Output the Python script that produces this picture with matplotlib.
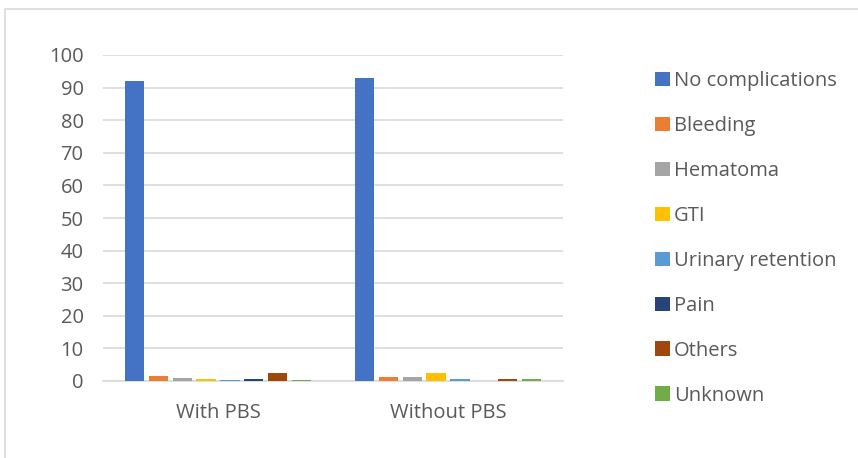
import matplotlib.pyplot as plt
import numpy as np
from matplotlib.patches import Rectangle

groups = ["With PBS", "Without PBS"]
series = ["No complications", "Bleeding", "Hematoma", "GTI",
          "Urinary retention", "Pain", "Others", "Unknown"]
with_pbs = [92, 1.5, 0.9, 0.6, 0.3, 0.6, 2.5, 0.2]
without_pbs = [93, 1.2, 1.2, 2.5, 0.5, 0.0, 0.5, 0.5]
colors = ["#4472C4", "#ED7D31", "#A5A5A5", "#FFC000",
          "#5B9BD5", "#264478", "#9E480E", "#70AD47"]

plt.rcParams['font.family'] = ['Open Sans', 'DejaVu Sans']
FS = 14.5

fig = plt.figure(figsize=8.58 * np.array([1, 458 / 858]), dpi=100)
fig.patches.append(Rectangle((4.5 / 858, -0.1), 1.2, (458 - 9.5) / 458 + 0.1,
                             transform=fig.transFigure, fill=False,
                             edgecolor="#d9d9d9", linewidth=1.2))

ax = fig.add_axes([103 / 858, (458 - 381) / 458, 460 / 858, 326 / 458])

x = np.arange(len(groups))
step = 0.104
width = 0.083
values = np.array([with_pbs, without_pbs])
for i, (name, c) in enumerate(zip(series, colors)):
    offset = (i - (len(series) - 1) / 2) * step
    ax.bar(x + offset, values[:, i], width=width, color=c, label=name, zorder=3)

ax.set_xlim(-0.5, 1.5)
ax.set_ylim(0, 100)
ax.set_yticks(range(0, 101, 10))
ax.set_xticks(x)
ax.set_xticklabels(groups)
ax.grid(axis="y", color="#d9d9d9", linewidth=1.2, zorder=0)
for s in ["top", "right", "left"]:
    ax.spines[s].set_visible(False)
ax.spines["bottom"].set_color("#d9d9d9")
ax.spines["bottom"].set_linewidth(1.2)
ax.tick_params(axis="both", length=0, labelsize=FS, colors="#595959")
ax.tick_params(axis="y", pad=14)
ax.tick_params(axis="x", pad=16)

leg = ax.legend(loc="upper left", bbox_to_anchor=(647 / 858, (458 - 63) / 458),
                bbox_transform=fig.transFigure, frameon=False, fontsize=FS,
                handlelength=0.75, handleheight=0.75, handletextpad=0.2,
                labelspacing=1.24, borderaxespad=0)
for t in leg.get_texts():
    t.set_color("#595959")

fig.savefig("out.png", dpi=100)
